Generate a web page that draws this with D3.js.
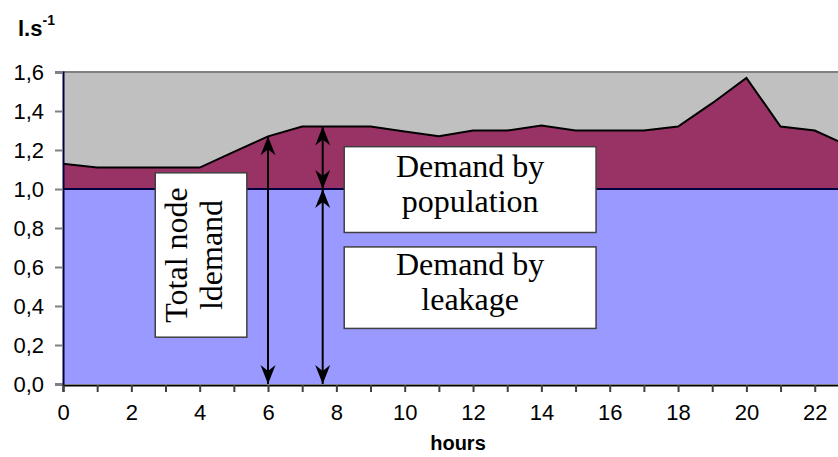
<!DOCTYPE html>
<html>
<head>
<meta charset="utf-8">
<script src="https://cdn.jsdelivr.net/npm/d3@7"></script>
<style>
  html, body { margin: 0; padding: 0; background: #fff; }
  svg { display: block; }
</style>
</head>
<body>
<svg id="chart" width="838" height="457"></svg>
<script>
// ---- data ----
const hours = [0,1,2,3,4,5,6,7,8,9,10,11,12,13,14,15,16,17,18,19,20,21,22,23];
const leakage = [1,1,1,1,1,1,1,1,1,1,1,1,1,1,1,1,1,1,1,1,1,1,1,1];
const population = [0.13,0.11,0.11,0.11,0.11,0.19,0.27,0.32,0.32,0.32,0.295,0.27,0.30,0.30,0.325,0.30,0.30,0.30,0.32,0.44,0.57,0.32,0.30,0.22];
const yTicks = [0,0.2,0.4,0.6,0.8,1.0,1.2,1.4,1.6];
const xTickLabels = [0,2,4,6,8,10,12,14,16,18,20,22];
const xMinorTicks = [0,1,2,3,4,5,6,7,8,9,10,11,12,13,14,15,16,17,18,19,20,21,22,23];
// annotation arrows: [hour, from value, to value]
const arrows = [[6, 1.27, 0], [7.6, 1.32, 1.0], [7.6, 1.0, 0]];
// annotation boxes: [hour x0, hour x1, value top, value bottom]
const boxes = [
  {x0: 2.7, x1: 5.38, top: 1.083, bottom: 0.24, lines: ["Total node", "ldemand"], rotate: true},
  {x0: 8.23, x1: 15.6, top: 1.217, bottom: 0.777, lines: ["Demand by", "population"]},
  {x0: 8.23, x1: 15.6, top: 0.703, bottom: 0.285, lines: ["Demand by", "leakage"]}
];

const svg = d3.select("#chart");
const x = d3.scaleLinear().domain([0, 23]).range([63, 63 + 23 * 34.17]);
const y = d3.scaleLinear().domain([0, 1.6]).range([384, 72]);

const rows = hours.map((h, i) => ({h, leak: leakage[i], pop: population[i]}));
const stack = d3.stack().keys(["leak", "pop"])(rows);

// plot background
svg.append("rect").attr("x", x(0)).attr("y", y(1.6)).attr("width", 838 - x(0)).attr("height", y(0) - y(1.6)).attr("fill", "#C0C0C0");

const area = d3.area().x(d => x(d.data.h)).y0(d => y(d[0])).y1(d => y(d[1]));
const fills = ["#9999FF", "#993366"];
svg.selectAll("path.area").data(stack).join("path")
  .attr("class", "area").attr("d", area).attr("fill", (d, i) => fills[i]);

// series border lines
const line = d3.line().x(d => x(d.data.h)).y(d => y(d[1]));
svg.append("path").attr("d", line(stack[0])).attr("fill", "none").attr("stroke", "#000040").attr("stroke-width", 2);
svg.append("path").attr("d", line(stack[1])).attr("fill", "none").attr("stroke", "#000").attr("stroke-width", 2);

// top border of plot area
svg.append("line").attr("x1", x(0)).attr("x2", 838).attr("y1", y(1.6)).attr("y2", y(1.6)).attr("stroke", "#808080").attr("stroke-width", 2);

// axes
const yAxis = d3.axisLeft(y).tickValues(yTicks).tickSize(8).tickPadding(11)
  .tickFormat(d => d3.format(".1f")(d).replace(".", ","));
const gy = svg.append("g").attr("transform", `translate(${x(0)},0)`).call(yAxis);
gy.select(".domain").attr("stroke", "#000040").attr("stroke-width", 2);
gy.selectAll(".tick line").attr("stroke", "#808080").attr("stroke-width", 2);
gy.selectAll("text").attr("font-family", "Liberation Sans, Arial, sans-serif").attr("font-size", 22).attr("fill", "#000");

const xAxis = d3.axisBottom(x).tickValues(xMinorTicks).tickSize(7).tickPadding(12)
  .tickFormat(d => xTickLabels.includes(d) ? d : "");
const gx = svg.append("g").attr("transform", `translate(0,${y(0) + 1})`).call(xAxis);
gx.select(".domain").attr("stroke", "#000").attr("stroke-width", 2);
gx.selectAll(".tick line").attr("stroke", "#404040").attr("stroke-width", 2);
gx.selectAll("text").attr("font-family", "Liberation Sans, Arial, sans-serif").attr("font-size", 22).attr("fill", "#000");

// axis titles
const yt = svg.append("text").attr("x", 18).attr("y", 36).attr("font-family", "Liberation Sans, Arial, sans-serif")
  .attr("font-weight", "bold").attr("font-size", 22).attr("fill", "#000");
yt.append("tspan").text("l.s");
yt.append("tspan").attr("dy", -11).attr("font-size", 14).text("-1");

svg.append("text").attr("x", 458).attr("y", 450).attr("text-anchor", "middle")
  .attr("font-family", "Liberation Sans, Arial, sans-serif").attr("font-weight", "bold").attr("font-size", 20)
  .text("hours");

// arrow markers
const defs = svg.append("defs");
defs.append("marker").attr("id", "ah").attr("viewBox", "-19 -8 20 16")
  .attr("refX", 0).attr("refY", 0).attr("markerWidth", 20).attr("markerHeight", 16)
  .attr("markerUnits", "userSpaceOnUse").attr("orient", "auto-start-reverse")
  .append("path").attr("d", "M0,0 L-19,-7.5 L-13,0 L-19,7.5 Z").attr("fill", "#000");

svg.selectAll("line.arrow").data(arrows).join("line").attr("class", "arrow")
  .attr("x1", d => x(d[0])).attr("x2", d => x(d[0]))
  .attr("y1", d => y(d[1])).attr("y2", d => y(d[2]))
  .attr("stroke", "#000").attr("stroke-width", 2)
  .attr("marker-start", "url(#ah)").attr("marker-end", "url(#ah)");

// annotation boxes
boxes.forEach(b => {
  const bx = x(b.x0), bw = x(b.x1) - x(b.x0), by = y(b.top), bh = y(b.bottom) - y(b.top);
  svg.append("rect").attr("x", bx).attr("y", by).attr("width", bw).attr("height", bh)
    .attr("fill", "#fff").attr("stroke", "#404040").attr("stroke-width", 1.5);
  const cx = bx + bw / 2, cy = by + bh / 2;
  const g = svg.append("g").attr("transform", b.rotate ? `translate(${cx},${cy}) rotate(-90)` : `translate(${cx},${cy})`);
  g.selectAll("text").data(b.lines).join("text")
    .attr("x", 0).attr("y", (d, i) => (b.rotate ? -14.5 : -13) + i * 35.5)
    .attr("text-anchor", "middle")
    .attr("font-family", "Liberation Serif, Times New Roman, serif").attr("font-size", 32).attr("fill", "#000")
    .text(d => d);
});
</script>
</body>
</html>
